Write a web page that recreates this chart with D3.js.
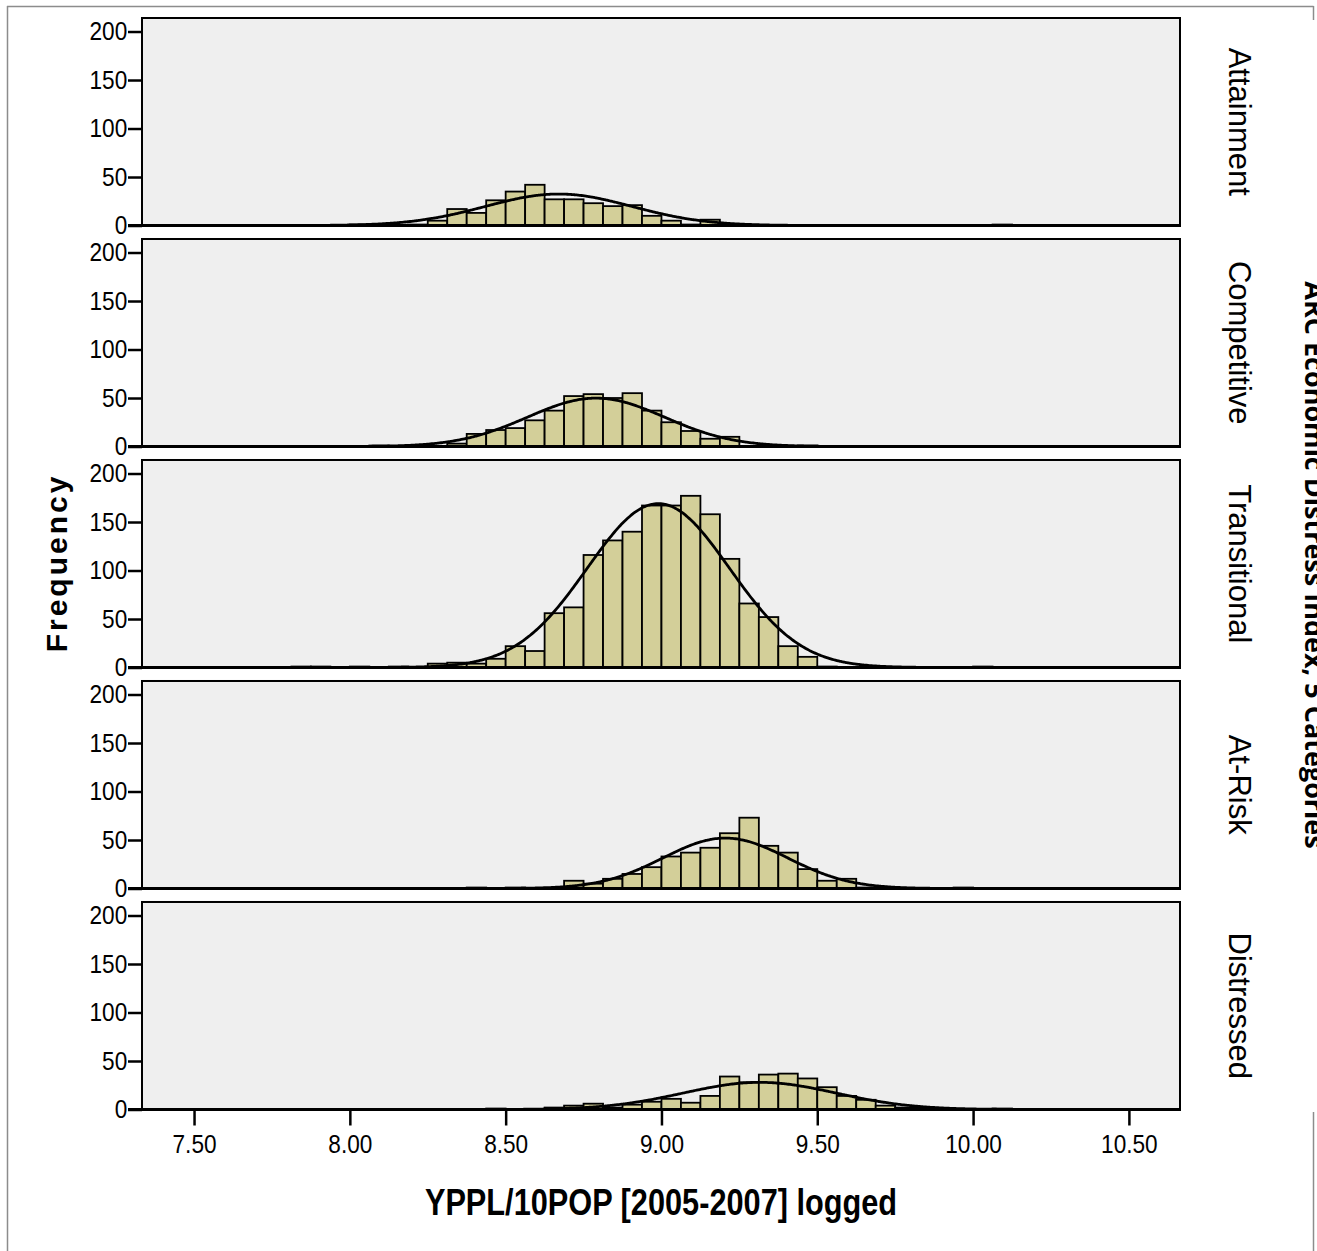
<!DOCTYPE html>
<html>
<head>
<meta charset="utf-8">
<script src="https://cdn.jsdelivr.net/npm/d3@7"></script>
<style>
  body { margin: 0; background: #fff; }
  .tick text { font-family: "Liberation Sans", Arial, sans-serif; }
</style>
</head>
<body>
<figure id="hist" style="margin:0"></figure>
<script>
// categories (facets) of the ARC index
const categories = ["Attainment", "Competitive", "Transitional", "At-Risk", "Distressed"];

// histogram bins: lower edges start at 7.8125, width 0.0625
const binStart = 7.8125;
const binWidth = 0.0625;
// counts per bin, index 0 = [7.8125, 7.875)
const attainment   = [0,0,0,1,0,0,1,5,17,13,26,35,42,27,27,23,20,21,10,5,1,6,1,0,0,0,0,0,0,0,0,0,0,0,0,0,1];
const competitive  = [0,0,0,0,1,0,1,0,3,13,17,19,27,37,52,54,50,55,37,25,16,8,10,0,0,0,1,0,0,0,0,0,0,0,0,0,0];
const transitional = [1,1,0,1,0,1,0,4,5,4,9,22,17,56,62,116,131,140,167,167,177,158,112,66,52,22,11,1,0,0,0,0,0,0,0,1,0];
const atRisk       = [0,0,0,0,0,0,0,0,0,1,0,1,0,0,8,5,10,15,22,33,37,42,57,73,44,37,20,8,10,1,0,0,0,0,1,0,0];
const distressed   = [0,0,0,0,0,0,0,0,0,0,1,0,0,2,4,6,2,5,8,11,7,14,34,28,36,37,32,23,14,10,4,2,2,0,0,0,1];
const counts = [attainment, competitive, transitional, atRisk, distressed];

// normal curve fitted to each facet
const curveMean = [8.67, 8.79, 8.99, 9.205, 9.315];
const curveSd   = [0.235, 0.22, 0.228, 0.2, 0.245];
const curveN    = [306, 440, 1545, 417, 275];

// tick labels
const xTicks = [7.5, 8.0, 8.5, 9.0, 9.5, 10.0, 10.5];
const yTicks = [0, 50, 100, 150, 200];

const width = 1317, height = 1251;
const left = 142, right = 1180;
const narrow = "scale(0.87,1)";   // condensed look of the original tick font

const svg = d3.select("figure#hist")
  .append("svg")
  .attr("width", width)
  .attr("height", height);

// outer grey frame (right edge interrupted by the facet title)
const frame = svg.append("g").attr("stroke", "#8c8c8c").attr("stroke-width", 1.5);
frame.append("line").attr("x1", 7).attr("x2", 1313.5).attr("y1", 6.5).attr("y2", 6.5);
frame.append("line").attr("x1", 7.5).attr("x2", 7.5).attr("y1", 6).attr("y2", height);
frame.append("line").attr("x1", 1313.5).attr("x2", 1313.5).attr("y1", 6).attr("y2", 20);
frame.append("line").attr("x1", 1313.5).attr("x2", 1313.5).attr("y1", 1112).attr("y2", height);

const x = d3.scaleLinear()
  .domain([7.333, 10.664])
  .range([left, right]);

// one band per facet
const panel = d3.scaleBand()
  .domain(categories)
  .range([18, 1109.5])
  .paddingInner(0.061)
  .paddingOuter(0);

const yMax = panel.bandwidth() / 0.97;

categories.forEach((cat, i) => {
  const top = panel(cat);
  const bottom = top + panel.bandwidth();
  const y = d3.scaleLinear().domain([0, yMax]).range([bottom, top]);

  const g = svg.append("g");

  g.append("rect")
    .attr("x", left)
    .attr("y", top)
    .attr("width", right - left)
    .attr("height", bottom - top)
    .attr("fill", "#efefef")
    .attr("stroke", "#000")
    .attr("stroke-width", 2);

  // bars
  const bins = counts[i].map((c, k) => ({ x0: binStart + k * binWidth, n: c })).filter(d => d.n > 0);
  g.selectAll("rect.bar")
    .data(bins)
    .enter()
    .append("rect")
    .attr("class", "bar")
    .attr("x", d => x(d.x0))
    .attr("y", d => y(d.n))
    .attr("width", d => x(d.x0 + binWidth) - x(d.x0))
    .attr("height", d => y(0) - y(d.n))
    .attr("fill", "#d3cf99")
    .attr("stroke", "#000")
    .attr("stroke-width", 1.8);

  // normal curve
  const pdf = v => curveN[i] * binWidth / (curveSd[i] * Math.sqrt(2 * Math.PI)) *
    Math.exp(-0.5 * Math.pow((v - curveMean[i]) / curveSd[i], 2));
  const line = d3.line()
    .x(v => x(v))
    .y(v => y(pdf(v)))
    .curve(d3.curveBasis);
  g.append("path")
    .datum(d3.range(x.domain()[0], x.domain()[1], 0.005))
    .attr("d", line)
    .attr("fill", "none")
    .attr("stroke", "#000")
    .attr("stroke-width", 2.8);

  // thick baseline
  g.append("line")
    .attr("x1", left - 14).attr("x2", right + 1)
    .attr("y1", bottom).attr("y2", bottom)
    .attr("stroke", "#000")
    .attr("stroke-width", 3);

  // y axis
  const ya = g.append("g")
    .attr("transform", "translate(" + left + ",0)")
    .call(d3.axisLeft(y).tickValues(yTicks).tickSize(14).tickPadding(3));
  ya.select(".domain").remove();
  ya.selectAll("line").attr("stroke-width", 2.5);
  ya.selectAll("text").attr("font-size", 26).attr("fill", "#000").attr("transform", narrow);

  // facet label on the right
  g.append("text")
    .attr("transform", "translate(1229," + (top + panel.bandwidth() / 2) + ") rotate(90)")
    .attr("text-anchor", "middle")
    .attr("font-family", "Liberation Sans, Arial, sans-serif")
    .attr("font-size", 31)
    .text(cat);
});

// x axis under the last panel
const xa = svg.append("g")
  .attr("transform", "translate(0," + (panel(categories[4]) + panel.bandwidth()) + ")")
  .call(d3.axisBottom(x).tickValues(xTicks).tickSize(16).tickPadding(9).tickFormat(d3.format(".2f")));
xa.select(".domain").remove();
xa.selectAll("line").attr("stroke-width", 2.5);
xa.selectAll("text").attr("font-size", 26).attr("fill", "#000").attr("transform", narrow);

// axis titles
svg.append("text")
  .attr("transform", "translate(661,1215) scale(0.83,1)")
  .attr("text-anchor", "middle")
  .attr("font-family", "Liberation Sans, Arial, sans-serif")
  .attr("font-weight", "bold")
  .attr("font-size", 37)
  .text("YPPL/10POP [2005-2007] logged");

svg.append("text")
  .attr("transform", "translate(67,563) rotate(-90)")
  .attr("text-anchor", "middle")
  .attr("font-family", "Liberation Sans, Arial, sans-serif")
  .attr("font-weight", "bold")
  .attr("font-size", 30)
  .attr("letter-spacing", 3)
  .text("Frequency");

// outer facet title, cut by the page edge as in the original
svg.append("text")
  .attr("transform", "translate(1305,565) rotate(90)")
  .attr("text-anchor", "middle")
  .attr("font-family", "Open Sans, sans-serif")
  .attr("font-weight", "bold")
  .attr("font-size", 27)
  .text("ARC Economic Distress Index, 5 Categories");
</script>
</body>
</html>
